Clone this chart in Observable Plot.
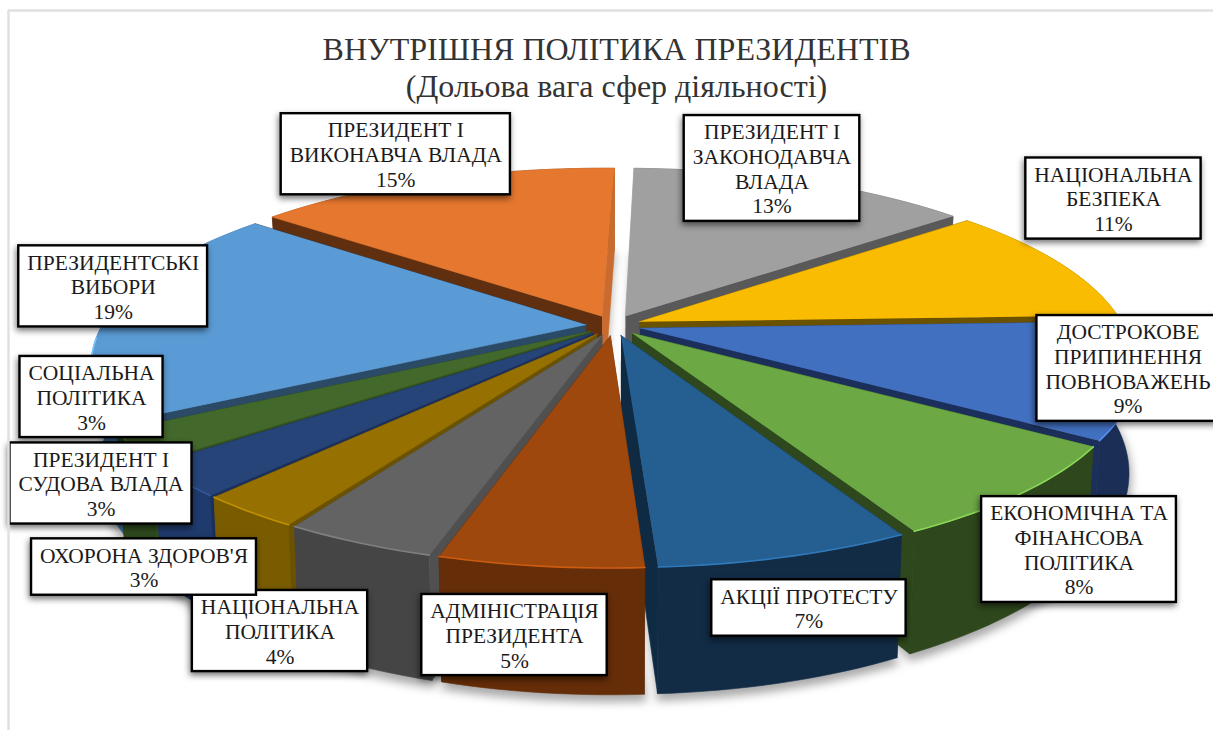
<!DOCTYPE html>
<html><head><meta charset="utf-8">
<script src="https://cdn.jsdelivr.net/npm/d3@7"></script>
<script src="https://cdn.jsdelivr.net/npm/@observablehq/plot@0.6"></script>
<style>html,body{margin:0;padding:0;background:#fff;overflow:hidden}svg{display:block}</style>
</head><body><div id="chart"></div>
<script>
const titleLines = ["ВНУТРІШНЯ ПОЛІТИКА ПРЕЗИДЕНТІВ", "(Дольова вага сфер діяльності)"];
const categories = [
 "ПРЕЗИДЕНТСЬКІ\nВИБОРИ","ПРЕЗИДЕНТ І\nВИКОНАВЧА ВЛАДА","ПРЕЗИДЕНТ І\nЗАКОНОДАВЧА\nВЛАДА",
 "НАЦІОНАЛЬНА\nБЕЗПЕКА","ДОСТРОКОВЕ\nПРИПИНЕННЯ\nПОВНОВАЖЕНЬ","ЕКОНОМІЧНА ТА\nФІНАНСОВА\nПОЛІТИКА",
 "АКЦІЇ ПРОТЕСТУ","АДМІНІСТРАЦІЯ\nПРЕЗИДЕНТА","НАЦІОНАЛЬНА\nПОЛІТИКА",
 "ОХОРОНА ЗДОРОВ'Я","ПРЕЗИДЕНТ І\nСУДОВА ВЛАДА","СОЦІАЛЬНА\nПОЛІТИКА"];
const shares = [19,15,13,11,9,8,7,5,4,3,3,3];
const topColors  = ["#5B9BD5","#E6772E","#A0A0A0","#F9BC00","#4270C0","#6CA844","#255E91","#9E480E","#636363","#967000","#264478","#43682B"];
const wallColors = ["#3A6A96","#8A4A1C","#666666","#8A6A00","#1A2E56","#2E471C","#122C46","#652D08","#454545","#7A5C00","#1F3A6C","#2E4A1D"];
const edgeColors = ["#2A4A66","#5F2F10","#595959","#6B5200","#1B2F5A","#2E471C","#0F2B44","#5F2F10","#505050","#6B5200","#1B2F5A","#33501F"];
// layout of the tilted pie and of the callouts (callouts sit at an offset from each slice's rim)
const cx=613, cy=325, a=484, b=181, p=0.2, explode=0.057, depth=100, shrink=0.985, rotation=-122.4+1.5;
const boundaryNudge=[1.5,1.5,0,2.3,0,3,3,2.4,4,4.4,3.8,3];
const labelOffsets=[[0.6,-23.4],[-38,-25.5],[-30.3,-12.6],[54.9,-63.9],[-7.9,-11.6],[57.4,56.3],[22.7,51.1],[-25.7,68.9],[-78.5,88.3],[-105.2,55.4],[-79.4,3.2],[-41.2,-50]];

const project=(X,Y,z=0)=>{const w=1-p*Y;let x=cx+a*X/w,y=cy+b*Y/w;if(z){y+=depth/w;x=cx+(x-cx)*shrink}return {x,y}};
const rad=d=>d*Math.PI/180;
const cum=d3.cumsum(shares);
const bound=i=>(i===0?0:cum[i-1])*3.6+rotation+boundaryNudge[i%12];
const slices=shares.map((s,i)=>{
  const t0=bound(i), t1=i===11?bound(0)+360:bound(i+1), mid=(t0+t1)/2;
  const ox=explode*Math.sin(rad(mid)), oy=-explode*Math.cos(rad(mid));
  const n=Math.max(2,Math.ceil((t1-t0)/1.5));
  const arc=d3.range(n+1).map(k=>{const t=t0+(t1-t0)*k/n;return [ox+Math.sin(rad(t)),oy-Math.cos(rad(t))]});
  return {i,mid,ox,oy,arc,anchorXY:[ox+Math.sin(rad(mid)),oy-Math.cos(rad(mid))]};
});
const order=d3.sort(slices,d=>-Math.cos(rad(d.mid)));
const poly=(pts,fill,extra={})=>Plot.line(pts,{x:"x",y:"y",fill,stroke:fill,strokeWidth:0.6,...extra});
const marks=[];
marks.push(...slices.map(s=>Plot.line(
  [project(s.ox,s.oy,1),...s.arc.map(q=>project(q[0],q[1],1))],
  {x:"x",y:d=>d.y+5,fill:"#777",stroke:"#777",strokeWidth:4,fillOpacity:.6,strokeOpacity:.6,imageFilter:"blur(5px)"})));
for(const s of order){
  const A0=project(s.ox,s.oy),A1=project(s.ox,s.oy,1);
  const first=s.arc[0],last=s.arc[s.arc.length-1];
  const e=edgeColors[s.i];
  const radial=[poly([A0,project(...first),project(...first,1),A1],s.i===2?"#BDBDBD":e),
                poly([A0,project(...last),project(...last,1),A1],s.i===1?"#C96B2E":e)];
  const outer=poly([...s.arc.map(q=>project(q[0],q[1])),...s.arc.slice().reverse().map(q=>project(q[0],q[1],1))],wallColors[s.i]);
  if(Math.cos(rad(s.mid))>0) marks.push(outer,...radial); else marks.push(...radial,outer);
  marks.push(poly([A0,...s.arc.map(q=>project(q[0],q[1]))],topColors[s.i]));
  const near=s.arc.filter(q=>q[1]>0.05);
  if(near.length>1) marks.push(Plot.line(near.map(q=>project(q[0],q[1])),{x:"x",y:"y",stroke:d3.color(topColors[s.i]).brighter(.7).formatHex(),strokeWidth:1.6,imageFilter:"blur(.6px)"}));
}
const fontFamily="Liberation Serif", fontSize=21.5, lineH=24.7;
const ctx=document.createElement("canvas").getContext("2d");ctx.font=`${fontSize}px "${fontFamily}"`;
const labels=slices.map(s=>{
  const txt=categories[s.i]+"\n"+shares[s.i]+"%";
  const lines=txt.split("\n");
  const an=project(...s.anchorXY);
  const w=d3.max(lines,l=>ctx.measureText(l).width)+17, h=lines.length*lineH+7;
  return {txt,w,h,cx:an.x+labelOffsets[s.i][0],cy:an.y+labelOffsets[s.i][1]};
});
marks.push(Plot.rect(labels,{x1:d=>d.cx-d.w/2,x2:d=>d.cx+d.w/2,y1:d=>d.cy-d.h/2,y2:d=>d.cy+d.h/2,fill:"#fff",stroke:"#000",strokeWidth:2.4,imageFilter:"drop-shadow(-1px 3px 3px rgba(0,0,0,.55))"}));
marks.push(Plot.text(labels,{x:"cx",y:"cy",text:"txt",fontFamily,fontSize,lineHeight:lineH/fontSize,fill:"#1a1a1a",textAnchor:"middle"}));
marks.push(Plot.text([titleLines[0]],{x:()=>616,y:()=>49,text:d=>d,fontFamily,fontSize:32,fill:"#333"}));
marks.push(Plot.text([titleLines[1]],{x:()=>616,y:()=>86,text:d=>d,fontFamily,fontSize:32,fill:"#333"}));
marks.push(Plot.ruleX([8],{y1:10,y2:730,stroke:"#e0e0e0",strokeWidth:2.5}));
marks.push(Plot.ruleY([10],{x1:8,x2:1213,stroke:"#e0e0e0",strokeWidth:2.5}));
const chart=Plot.plot({width:1213,height:730,margin:0,
  x:{domain:[0,1213],range:[0,1213],axis:null},
  y:{domain:[0,730],range:[0,730],axis:null},
  marks});
document.getElementById("chart").append(chart);
</script></body></html>
